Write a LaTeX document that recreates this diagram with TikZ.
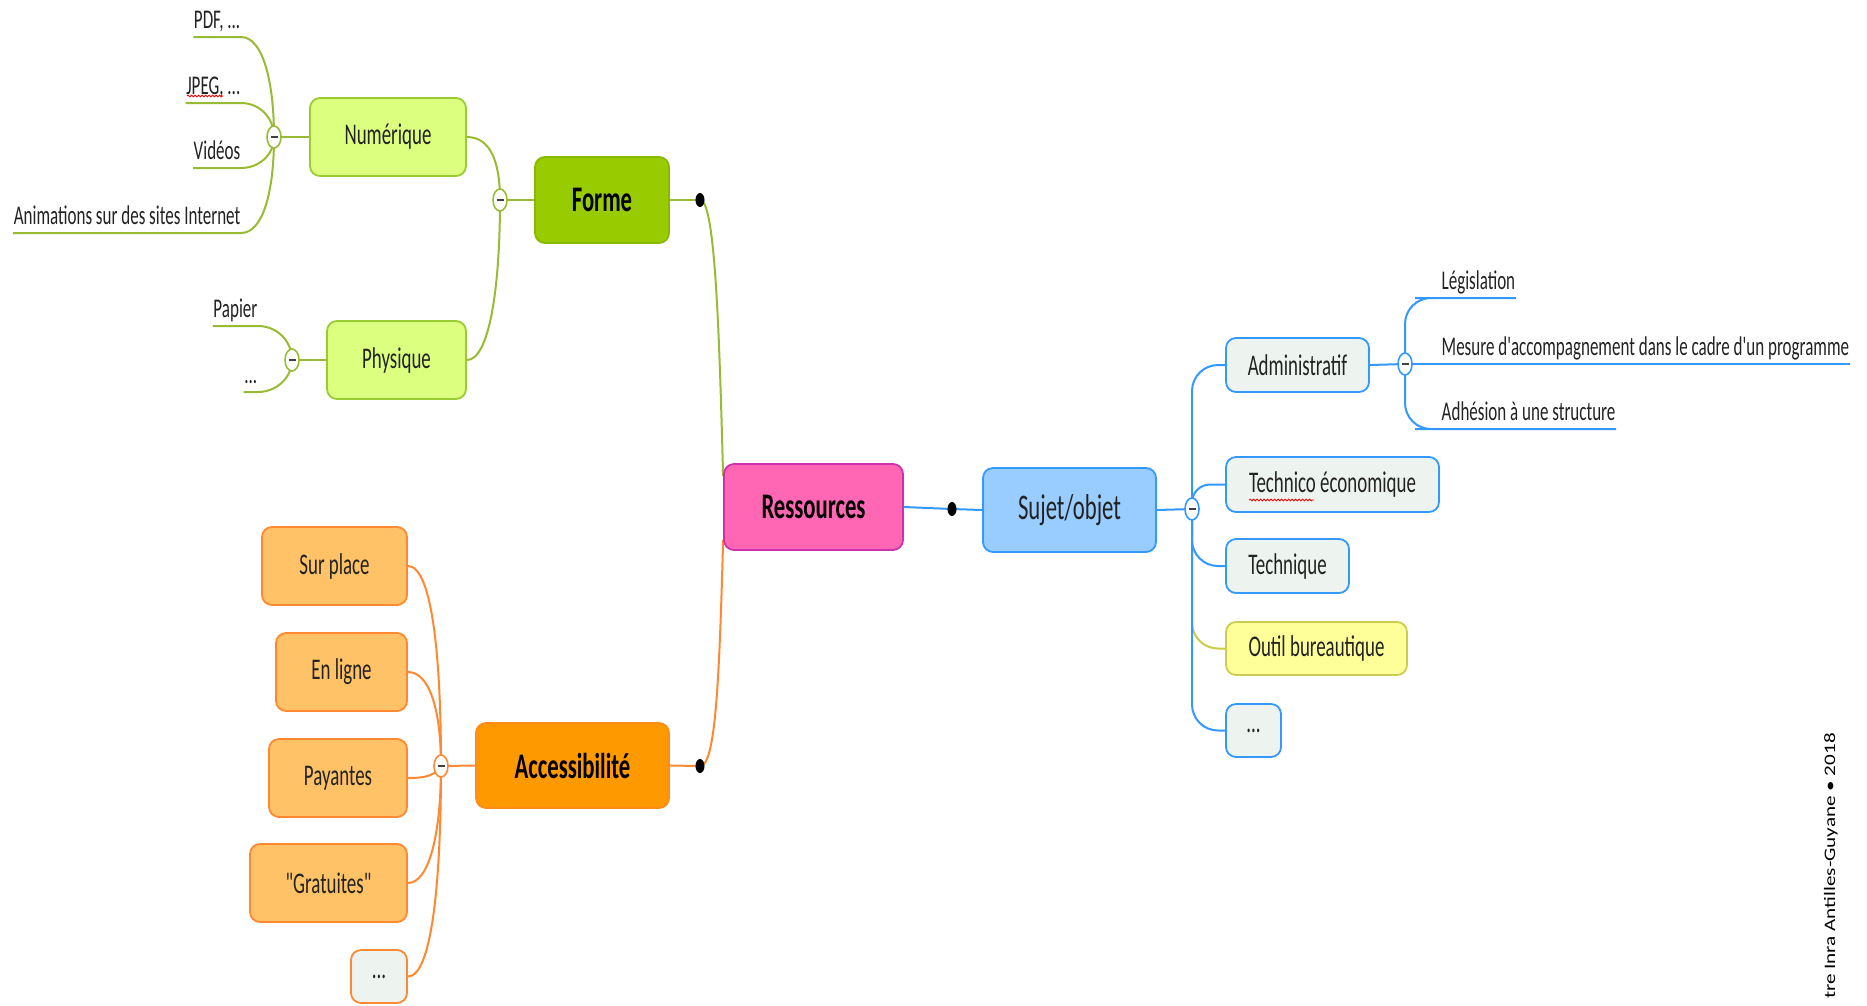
\documentclass[tikz,border=0pt]{standalone}
\usepackage{fontspec}
\setmainfont{Carlito}[FakeStretch=0.63, Ligatures=TeXOff]
\newfontfamily\wmfont{Carlito}[FakeStretch=1.32]
\usetikzlibrary{shapes.geometric,backgrounds,decorations.pathmorphing,calc}
\definecolor{grn}{HTML}{99BB33}
\definecolor{formefill}{HTML}{99CC00}
\definecolor{formedraw}{HTML}{88B800}
\definecolor{lgfill}{HTML}{DDFF80}
\definecolor{lgdraw}{HTML}{99CC33}
\definecolor{resfill}{HTML}{FF66B3}
\definecolor{resdraw}{HTML}{CC33AA}
\definecolor{blu}{HTML}{3399FF}
\definecolor{sujfill}{HTML}{99CCFF}
\definecolor{paleFill}{HTML}{EDF4EF}
\definecolor{ylwfill}{HTML}{FFFF99}
\definecolor{ylwdraw}{HTML}{CCCC55}
\definecolor{ylw}{HTML}{CCCC44}
\definecolor{accfill}{HTML}{FF9900}
\definecolor{accdraw}{HTML}{FF8C1A}
\definecolor{orfill}{HTML}{FFC266}
\definecolor{ora}{HTML}{FF8833}
\definecolor{txt}{HTML}{222222}
\tikzset{
  box/.style={draw, rounded corners=10pt, line width=1.8pt, align=center, inner sep=0pt,
    text=txt, font=\fontsize{30}{36}\selectfont},
  mainbox/.style={box, text=black, font=\bfseries\fontsize{36}{42}\selectfont},
  collapsecirc/.style={ellipse, draw, fill=white, line width=1.6pt, minimum width=14pt,
    minimum height=22pt, inner sep=0pt,
    path picture={\draw[line width=2.6pt, black!75]
      ([xshift=-3.5pt]path picture bounding box.center) --
      ([xshift=3.5pt]path picture bounding box.center);}},
  blackdot/.style={ellipse, fill=black, minimum width=9pt, minimum height=14pt, inner sep=0pt},
  leaf/.style={inner xsep=0.5pt, inner ysep=1pt, text height=18pt, text depth=7pt,
    text=txt, font=\fontsize{27}{32}\selectfont},
  conn/.style={line width=2pt},
  squiggle/.style={red, line width=0.8pt, decorate,
    decoration={snake, amplitude=0.9pt, segment length=3.5pt}}
}
\begin{document}
\begin{tikzpicture}[x=1pt,y=-1pt]
\useasboundingbox (0,0) rectangle (1867,1005);

% ---- Forme branch
\node[mainbox, fill=formefill, draw=formedraw, minimum width=134pt, minimum height=86pt] (forme) at (602,200) {Forme};
\node[box, fill=lgfill, draw=lgdraw, minimum width=156pt, minimum height=78pt] (num) at (388,137) {Numérique};
\node[box, fill=lgfill, draw=lgdraw, minimum width=139pt, minimum height=78pt] (phy) at (396.5,360) {Physique};
\node[collapsecirc, draw=grn] (fc) at (500,200) {};
\node[collapsecirc, draw=grn] (nc) at (274,137) {};
\node[collapsecirc, draw=grn] (pc) at (292,360) {};
\node[blackdot] (fdot) at (700,200) {};
\node[leaf, anchor=south east] (pdf) at (241,37) {PDF, ...};
\node[leaf, anchor=south east] (jpeg) at (241,103) {JPEG, ...};
\node[leaf, anchor=south east] (vid) at (241,168) {Vidéos};
\node[leaf, anchor=south east] (anim) at (241,233) {Animations sur des sites Internet};
\node[leaf, anchor=south east] (pap) at (258,326) {Papier};
\node[leaf, anchor=south east] (pdots) at (258,392) {...};

% ---- centre
\node[mainbox, fill=resfill, draw=resdraw, minimum width=179pt, minimum height=86pt] (res) at (813.5,507) {Ressources};
\node[blackdot] (rdot) at (952,509) {};
\node[box, fill=sujfill, draw=blu, minimum width=173pt, minimum height=84pt,
  font=\fontsize{36}{42}\selectfont] (suj) at (1069.5,510) {Sujet/objet};
\node[collapsecirc, draw=blu] (sc) at (1192,509) {};

% ---- Sujet/objet children
\node[box, fill=paleFill, draw=blu, minimum width=143pt, minimum height=54pt] (adm) at (1297.5,365) {Administratif};
\node[box, fill=paleFill, draw=blu, minimum width=213pt, minimum height=55pt] (tec) at (1332.5,484.5) {Technico économique};
\node[box, fill=paleFill, draw=blu, minimum width=123pt, minimum height=54pt] (tq) at (1287.5,566) {Technique};
\node[box, fill=ylwfill, draw=ylwdraw, minimum width=181pt, minimum height=53pt] (outil) at (1316.5,648.5) {Outil bureautique};
\node[box, fill=paleFill, draw=blu, minimum width=55pt, minimum height=53pt] (sdots) at (1253.5,730.5) {...};
\node[collapsecirc, draw=blu] (admc) at (1405,364) {};
\node[leaf, anchor=south west] (leg) at (1441,298) {Législation};
\node[leaf, anchor=south west] (mes) at (1441,364) {Mesure d'accompagnement dans le cadre d'un programme};
\node[leaf, anchor=south west] (adh) at (1441,429) {Adhésion à une structure};

% ---- Accessibilité branch
\node[mainbox, fill=accfill, draw=accdraw, minimum width=193pt, minimum height=85pt] (acc) at (572.5,765.5) {Accessibilité};
\node[blackdot] (adot) at (700,766) {};
\node[collapsecirc, draw=ora] (accc) at (441,766) {};
\node[box, fill=orfill, draw=ora, minimum width=145pt, minimum height=78pt] (sur) at (334.5,566) {Sur place};
\node[box, fill=orfill, draw=ora, minimum width=131pt, minimum height=78pt] (enl) at (341.5,672) {En ligne};
\node[box, fill=orfill, draw=ora, minimum width=138pt, minimum height=78pt] (pay) at (338,778) {Payantes};
\node[box, fill=orfill, draw=ora, minimum width=157pt, minimum height=78pt] (gra) at (328.5,883) {"Gratuites"};
\node[box, fill=paleFill, draw=ora, minimum width=56pt, minimum height=53pt] (adots) at (379,976.5) {...};

% ---- watermark
\node[rotate=90, anchor=base east, inner sep=0pt, font=\wmfont\fontsize{16}{19}\selectfont, text=black]
  (wm) at (1835,733) {tre Inra Antilles-Guyane • 2018};

% ---- spell-check squiggles
\draw[squiggle] (187,96) -- (223,96);
\draw[squiggle] (1249,500) -- (1314,500);

% ---- connectors
\begin{scope}[on background layer]
  \begin{scope}[conn, grn]
    \draw (pdf.south west) -- (pdf.south east) .. controls +(22,0) and +(0,-55) .. (nc.center);
    \draw (jpeg.south west) -- (jpeg.south east) .. controls +(18,0) and +(0,-20) .. (nc.center);
    \draw (vid.south west) -- (vid.south east) .. controls +(18,0) and +(0,18) .. (nc.center);
    \draw (anim.south west) -- (anim.south east) .. controls +(22,0) and +(0,55) .. (nc.center);
    \draw (pap.south west) -- (pap.south east) .. controls +(18,0) and +(0,-20) .. (pc.center);
    \draw (pdots.south west) -- (pdots.south east) .. controls +(18,0) and +(0,18) .. (pc.center);
    \draw (nc.center) -- (num.west);
    \draw (pc.center) -- (phy.west);
    \draw (num.east) .. controls +(25,0) and +(0,-35) .. (fc.center);
    \draw (phy.east) .. controls +(22,0) and +(0,90) .. (fc.center);
    \draw (fc.center) -- (forme.west);
    \draw (forme.east) -- (fdot.center);
    \draw (fdot.center) .. controls +(15,0) and +(-4,-150) .. ([yshift=31pt]res.west);
  \end{scope}
  \begin{scope}[conn, ora]
    \draw (acc.east) -- (adot.center);
    \draw (adot.center) .. controls +(15,0) and +(-4,150) .. ([yshift=-33pt]res.west);
    \draw (accc.center) -- (acc.west);
    \draw (sur.east) .. controls +(24,0) and +(0,-110) .. (accc.center);
    \draw (enl.east) .. controls +(22,0) and +(0,-55) .. (accc.center);
    \draw (pay.east) .. controls +(22,0) and +(-6,8) .. (accc.center);
    \draw (gra.east) .. controls +(22,0) and +(0,65) .. (accc.center);
    \draw (adots.east) .. controls +(24,0) and +(0,115) .. (accc.center);
  \end{scope}
  \begin{scope}[conn, blu]
    \draw (res.east) -- (rdot.center) -- (suj.west);
    \draw (suj.east) -- (sc.center);
    \draw[ylw, rounded corners=26pt] (sc.center) |- (outil.west);
    \draw[rounded corners=26pt] (sc.center) |- (adm.west);
    \draw[rounded corners=18pt] (sc.center) |- (tec.west);
    \draw[rounded corners=26pt] (sc.center) |- (tq.west);
    \draw[rounded corners=26pt] (sc.center) |- (sdots.west);
    \draw (adm.east) -- (admc.center);
    \draw[rounded corners=26pt] (admc.center) |- (leg.south west) -- (leg.south east);
    \draw (admc.center) -- (mes.south west) -- (mes.south east);
    \draw[rounded corners=26pt] (admc.center) |- (adh.south west) -- (adh.south east);
  \end{scope}
\end{scope}
\end{tikzpicture}
\end{document}
